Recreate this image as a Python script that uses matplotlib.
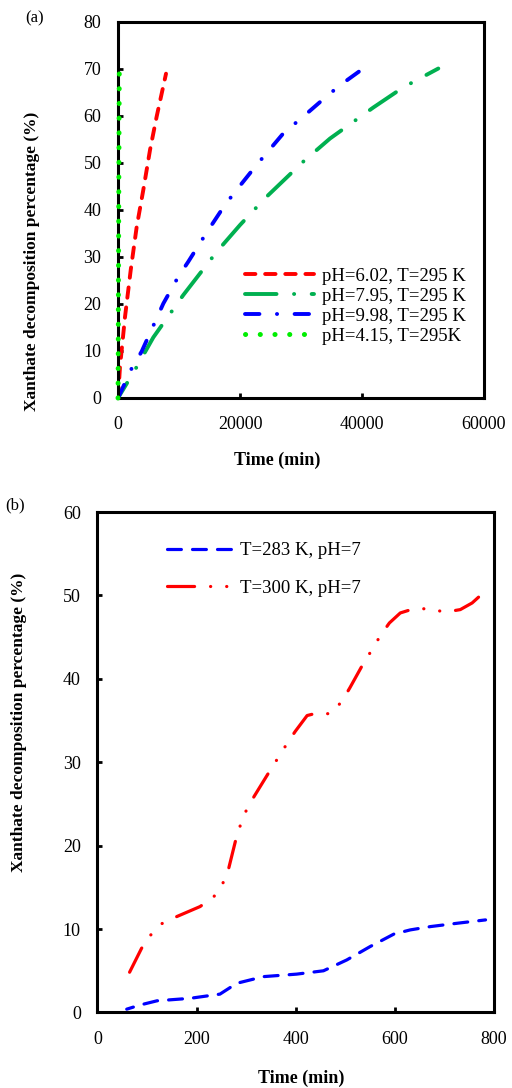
import matplotlib
matplotlib.use("Agg")
import matplotlib.pyplot as plt
from matplotlib.lines import Line2D

plt.rcParams['font.family'] = ['Liberation Serif', 'DejaVu Serif']
plt.rcParams['lines.scale_dashes'] = False

# ---- panel (a): time (min) vs decomposition (%) ----
ph602_t = [0, 330, 1150, 2080, 3060, 4150, 5250, 6340, 7870]
ph602_y = [0, 6.7, 17.3, 27.2, 36.4, 44.3, 52.8, 59.9, 69.0]

ph795_t = [0, 2790, 5790, 10700, 16180, 20000, 24100, 30380, 34750, 41850, 46770, 52510]
ph795_y = [0, 6.0, 12.9, 21.9, 31.1, 36.8, 42.5, 50.3, 55.2, 61.8, 66.1, 70.1]

ph998_t = [0, 2240, 3880, 7430, 9880, 11520, 14530, 17540, 19340, 22730, 27100,
           30660, 34750, 37210, 40200]
ph998_y = [0, 6.3, 9.9, 20.1, 25.8, 29.0, 35.2, 41.1, 44.1, 49.6, 56.3, 60.2,
           64.8, 67.3, 70.1]

ph415_t = [0, 20, 40, 60, 90, 120, 150, 180, 210]
ph415_y = [0, 5, 10, 20, 30, 40, 50, 60, 69]

a_xticks = [0, 20000, 40000, 60000]
a_yticks = [0, 10, 20, 30, 40, 50, 60, 70, 80]

# ---- panel (b) ----
t283_t = [59, 86, 120, 187, 247, 281, 335, 402, 456, 503, 550, 598, 631, 672, 726, 783]
t283_y = [0.4, 0.9, 1.4, 1.7, 2.2, 3.5, 4.3, 4.6, 5.0, 6.3, 7.9, 9.4, 9.9, 10.3, 10.7, 11.1]

t300_t = [62, 89, 106, 128, 160, 207, 235, 253, 264, 279, 288, 300, 316, 346, 363,
          381, 399, 423, 443, 471, 493, 509, 537, 554, 571, 589, 611, 638, 668,
          702, 732, 756, 782]
t300_y = [4.5, 7.7, 9.2, 10.6, 11.5, 12.7, 13.9, 15.5, 17.1, 20.7, 22.4, 24.2, 25.9,
          28.8, 30.4, 32.1, 33.7, 35.6, 35.9, 35.8, 37.3, 38.9, 41.9, 43.5, 45.2,
          46.7, 47.9, 48.4, 48.4, 48.0, 48.3, 49.1, 50.5]

b_xticks = [0, 200, 400, 600, 800]
b_yticks = [0, 10, 20, 30, 40, 50, 60]

ylab = 'Xanthate decomposition percentage (%)'


def style_axes(ax, xticks, yticks):
    for s in ax.spines.values():
        s.set_linewidth(2.2)
    ax.set_xticks(xticks)
    ax.set_yticks(yticks)
    ax.set_xlim(xticks[0], xticks[-1])
    ax.set_ylim(yticks[0], yticks[-1])
    ax.tick_params(direction='in', length=3.6, width=2, labelsize=13,
                   top=False, right=False)
    ax.tick_params(axis='y', pad=12)
    ax.tick_params(axis='x', pad=13)


def draw(ax, x, y, color, lw, dashes, offset=0, **kw):
    # plot with a dash offset, but return a clean (offset 0) legend handle
    ax.plot(x, y, color=color, lw=lw, ls=(offset, dashes),
            dash_capstyle='round', **kw)
    return Line2D([], [], color=color, lw=lw, ls=(0, dashes),
                  dash_capstyle='round')


fig = plt.figure(figsize=(5.12, 10.88), dpi=100)

# Panel (a)
ax = fig.add_axes([0.2305, 0.6342, 0.7148, 0.3456])
h1 = draw(ax, ph602_t, ph602_y, '#FF0000', 2.8, (7.5, 7))
h2 = draw(ax, ph795_t, ph795_y, '#00B050', 2.8, (22.7, 12.6, 0.1, 12.6), offset=10)
h3 = draw(ax, ph998_t, ph998_y, '#0000FF', 2.8, (10.4, 12.6, 0.1, 12.6))
h4 = draw(ax, ph415_t, ph415_y, '#00EE00', 3.6, (0.1, 10.5), zorder=3, clip_on=False)
style_axes(ax, a_xticks, a_yticks)
ax.set_xlabel('Time (min)', fontsize=13, fontweight='bold')
ax.set_ylabel(ylab, fontsize=12.5, fontweight='bold')
ax.xaxis.set_label_coords(0.436, -0.144)
ax.yaxis.set_label_coords(-0.213, 0.362)
ax.legend([h1, h2, h3, h4],
          ['pH=6.02, T=295 K', 'pH=7.95, T=295 K', 'pH=9.98, T=295 K', 'pH=4.15, T=295K'],
          loc='upper left', bbox_to_anchor=(0.347, 0.346), frameon=False,
          fontsize=13.5, borderpad=0, borderaxespad=0, handlelength=3.7,
          handletextpad=0.4, labelspacing=0.15)

# Panel (b)
bx = fig.add_axes([0.1904, 0.0694, 0.7744, 0.46])
g1 = draw(bx, t283_t, t283_y, '#0000FF', 2.3, (10, 8), offset=5)
g2 = draw(bx, t300_t, t300_y, '#FF0000', 2.3,
          (19.5, 11.5, 0.1, 11.5, 0.1, 11.5), offset=52)
style_axes(bx, b_xticks, b_yticks)
bx.set_xlabel('Time (min)', fontsize=13, fontweight='bold')
bx.set_ylabel(ylab, fontsize=12.5, fontweight='bold')
bx.xaxis.set_label_coords(0.513, -0.115)
bx.yaxis.set_label_coords(-0.178, 0.58)
bx.legend([g1, g2], ['T=283 K, pH=7', 'T=300 K, pH=7'],
          loc='upper left', bbox_to_anchor=(0.175, 0.94), frameon=False,
          fontsize=13.5, borderpad=0, borderaxespad=0, handlelength=3.7,
          handletextpad=0.2, labelspacing=1.1)

fig.text(25 / 512, 1 - 18 / 1088, '(a)', fontsize=12, va='center')
fig.text(5 / 512, 1 - 505 / 1088, '(b)', fontsize=12, va='center')

fig.savefig('out.png', dpi=100)
